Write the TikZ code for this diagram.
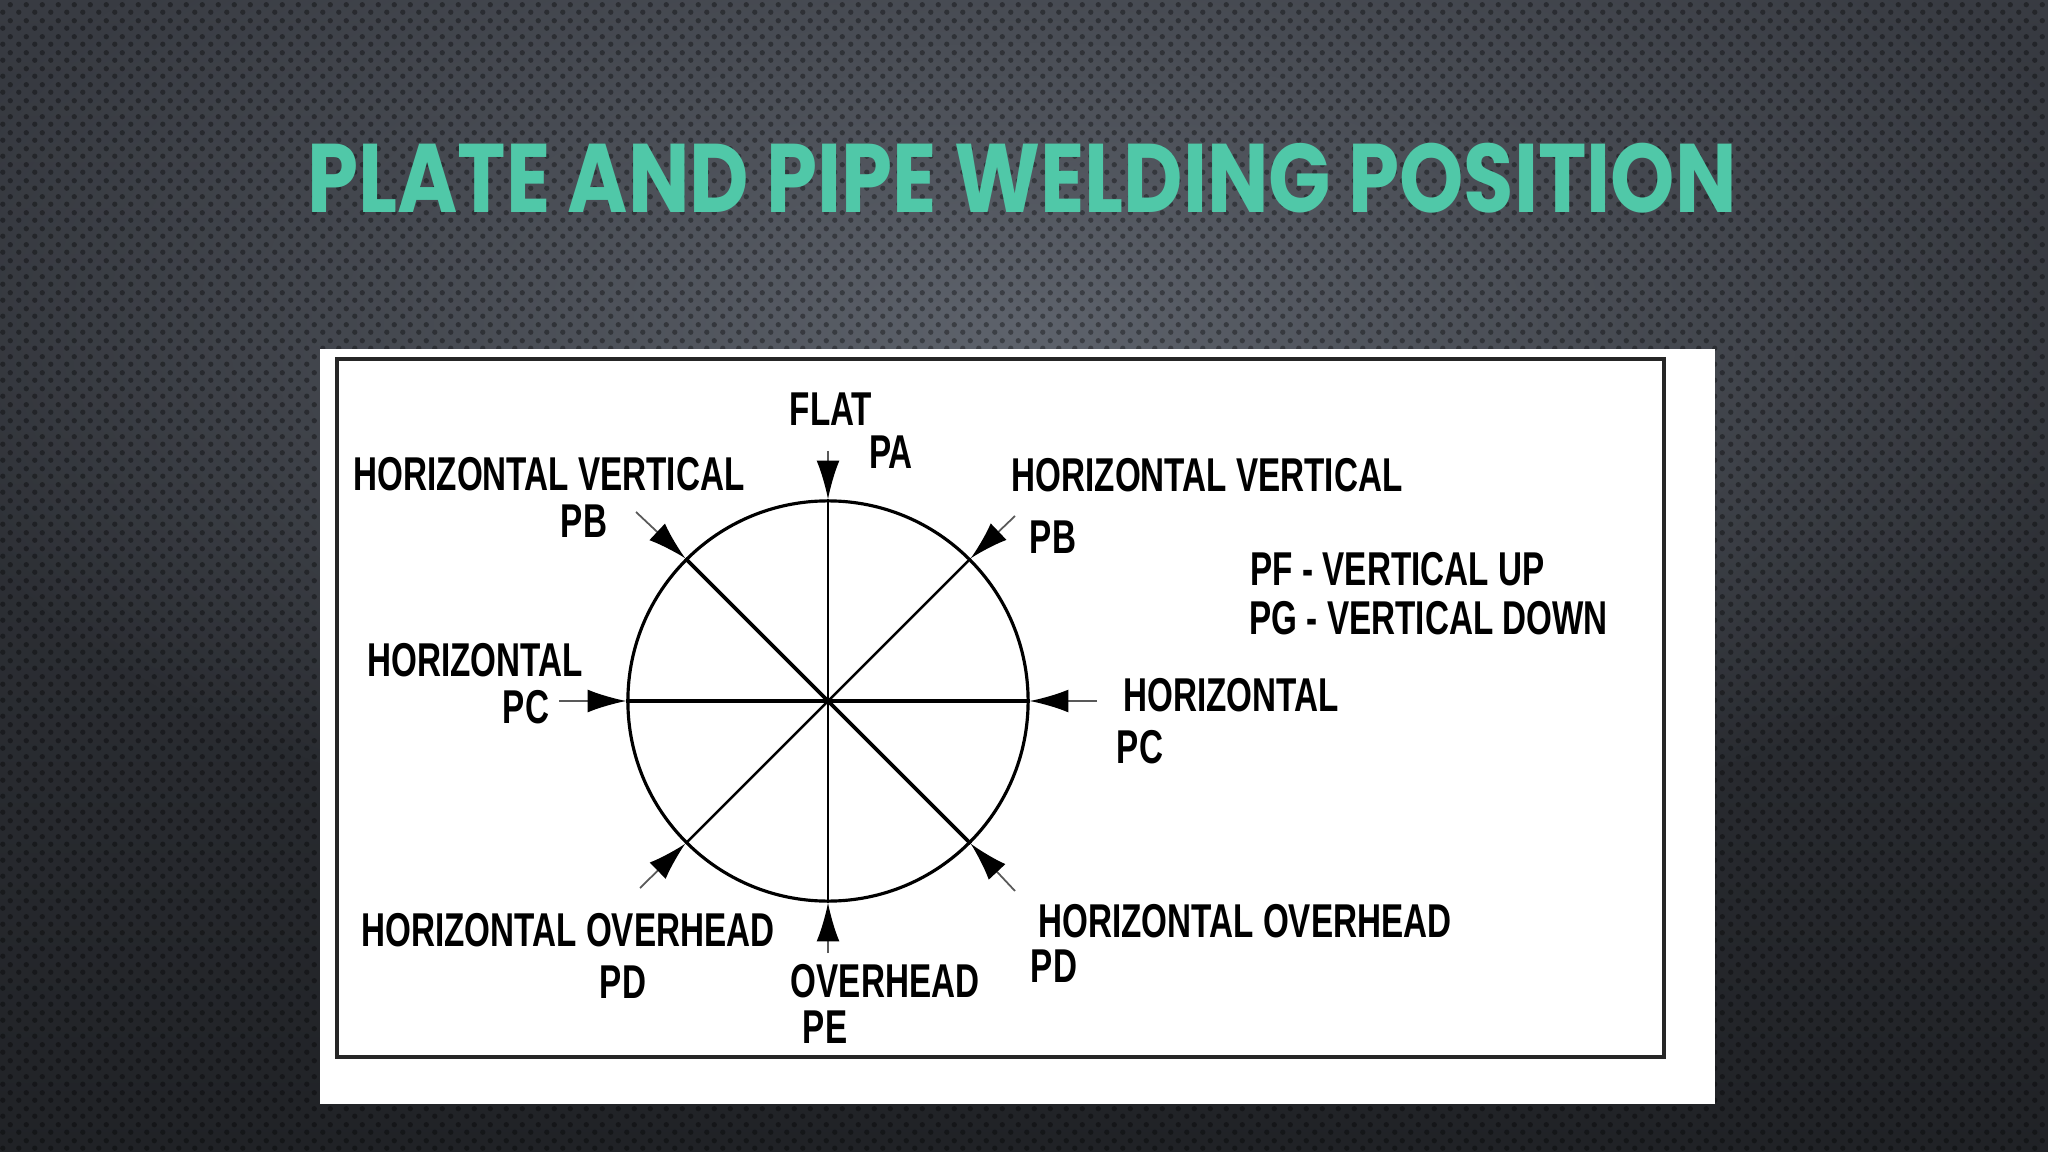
\documentclass[tikz,border=0pt]{standalone}
\usepackage{fontspec}
\usetikzlibrary{arrows.meta,patterns.meta,fadings}
\setmainfont{Liberation Sans}
\newfontfamily\condfont{Liberation Sans}[FakeStretch=0.70]
\newfontfamily\titlefont{Poppins}[FakeStretch=0.84]

\definecolor{bgdark}{RGB}{32,34,38}
\definecolor{bgmid}{RGB}{56,59,66}
\definecolor{bglight}{RGB}{94,99,108}
\definecolor{titleteal}{RGB}{80,200,168}

\tikzfading[name=glow, inner color=transparent!0, outer color=transparent!100]

\tikzdeclarepattern{
  name=hexdots,
  type=uncolored,
  bounding box={(0pt,0pt) and (4.55pt,4.55pt)},
  tile size={(4.55pt,4.55pt)},
  code={
    \fill (1.14pt,1.14pt) circle (0.8pt);
    \fill (3.41pt,3.41pt) circle (0.8pt);
  }
}

\begin{document}
\begin{tikzpicture}[x=0.01cm,y=-0.01cm]
    \tikzset{
        lbl/.style={font=\condfont\bfseries\fontsize{13.5}{14}\selectfont, inner sep=0pt},
        pointer/.style={line width=0.5pt, draw=black!65, -{Latex[length=11pt,width=6.5pt,color=black]}},
        spoke/.style={draw=black, line width=#1},
    }
    \useasboundingbox (0,0) rectangle (2048,1152);

    % background
    \begin{scope}
        \clip (0,0) rectangle (2048,1152);
        \shade[top color=bgmid, bottom color=bgdark] (0,0) rectangle (2048,1152);
        \fill[bglight, path fading=glow] (1024,330) ellipse (1150 and 560);
        \fill[pattern=hexdots, pattern color=black, opacity=0.35] (0,0) rectangle (2048,1152);
    \end{scope}

    \node[font=\titlefont\bfseries\fontsize{27.7}{30}\selectfont, text=titleteal, inner sep=0pt] (title) at (1022,178) {PLATE AND PIPE WELDING POSITION};

    % panel
    \fill[white] (320,349) rectangle (1715,1104);
    \draw[line width=1pt, draw=black!85] (337,359) rectangle (1664,1057);

    % circle and spokes
    \node[circle, draw, line width=0.9pt, minimum size=4cm, inner sep=0pt] (c) at (828,701) {};
    \draw[spoke=0.6pt] (c.north) -- (c.south);
    \draw[spoke=0.9pt] (c.west) -- (c.east);
    \draw[spoke=1.1pt] (c.north west) -- (c.south east);
    \draw[spoke=0.7pt] (c.north east) -- (c.south west);

    % arrow tails
    \coordinate (ta)  at (828,451);
    \coordinate (te)  at (828,953);
    \coordinate (tcl) at (559,701);
    \coordinate (tcr) at (1097,701);
    \coordinate (tbl) at (636,512);
    \coordinate (tbr) at (1015,516);
    \coordinate (tdl) at (640,888);
    \coordinate (tdr) at (1015,891);

    \draw[pointer] (ta)  -- (c.north);
    \draw[pointer] (te)  -- (c.south);
    \draw[pointer] (tcl) -- (c.west);
    \draw[pointer] (tcr) -- (c.east);
    \draw[pointer] (tbl) -- (c.north west);
    \draw[pointer] (tbr) -- (c.north east);
    \draw[pointer] (tdl) -- (c.south west);
    \draw[pointer] (tdr) -- (c.south east);

    % labels
    \node[lbl] (flat) at (831,409)  {FLAT};
    \node[lbl] (pa)   at (891,452)  {PA};
    \node[lbl] (hvl)  at (549,474)  {HORIZONTAL VERTICAL};
    \node[lbl] (pbl)  at (584,521)  {PB};
    \node[lbl] (hvr)  at (1207,475) {HORIZONTAL VERTICAL};
    \node[lbl] (pbr)  at (1053,537) {PB};
    \node[lbl, anchor=west] (pf) at (1250,569) {PF - VERTICAL UP};
    \node[lbl, anchor=west] (pg) at (1249,618) {PG - VERTICAL DOWN};
    \node[lbl] (hcl)  at (475,660)  {HORIZONTAL};
    \node[lbl] (pcl)  at (526,707)  {PC};
    \node[lbl] (hcr)  at (1231,695) {HORIZONTAL};
    \node[lbl] (pcr)  at (1140,747) {PC};
    \node[lbl] (hol)  at (568,930)  {HORIZONTAL OVERHEAD};
    \node[lbl] (pdl)  at (623,982)  {PD};
    \node[lbl] (oh)   at (885,981)  {OVERHEAD};
    \node[lbl] (pe)   at (825,1027) {PE};
    \node[lbl] (hor)  at (1245,921) {HORIZONTAL OVERHEAD};
    \node[lbl] (pdr)  at (1054,966) {PD};
\end{tikzpicture}
\end{document}
